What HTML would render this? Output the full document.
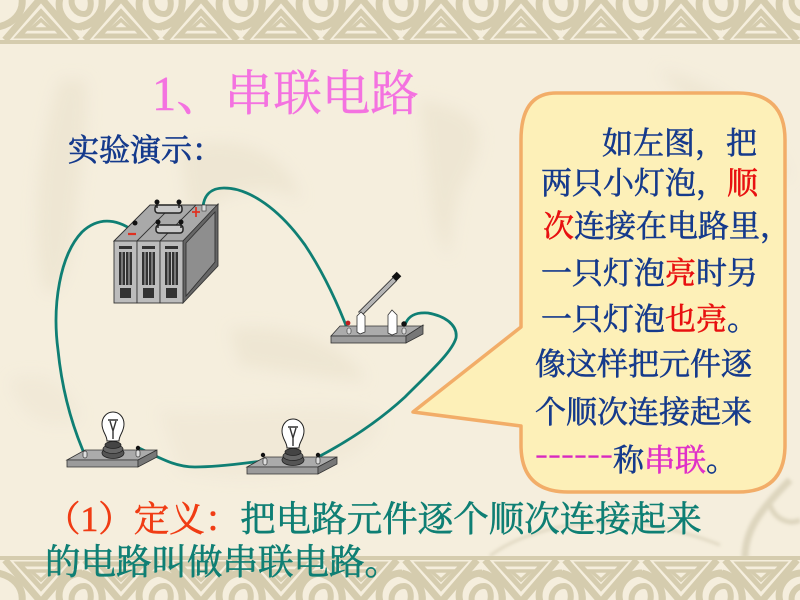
<!DOCTYPE html>
<html><head><meta charset="utf-8"><style>
html,body{margin:0;padding:0;background:#f5eedd}
svg{display:block}
text{font-family:"Liberation Serif","Noto Serif CJK SC",serif}
</style></head><body>
<svg width="800" height="600" viewBox="0 0 800 600" xmlns="http://www.w3.org/2000/svg">
<defs>
<filter id="b" x="-20%" y="-20%" width="140%" height="140%"><feGaussianBlur stdDeviation="7"/></filter>
<filter id="s" x="-10%" y="-10%" width="120%" height="120%"><feGaussianBlur stdDeviation="1.500"/></filter>
<g id="unit" fill="none" stroke="#d5ccae" stroke-width="7">
  <path d="M-2 42H82" stroke-width="4"/>
  <path d="M5 40L41 -2L77 40"/>
  <path d="M19 36H63L41 12Z" stroke-width="5"/>
  <path d="M31 29H51L41 20Z" stroke-width="3.500"/>
  <path d="M-2 27C12 24 24 14 22 -2"/>
  <path d="M60 -2C56 12 66 27 82 27"/>
  <path d="M72 -2C70 6 76 14 84 14C90 14 92 6 90 -2" stroke-width="6"/>
  <path d="M82 27C94 24 104 14 102 -2"/>
</g>
<g id="band"><use href="#unit" x="0"/><use href="#unit" x="80"/><use href="#unit" x="160"/><use href="#unit" x="240"/><use href="#unit" x="320"/><use href="#unit" x="400"/><use href="#unit" x="480"/><use href="#unit" x="560"/><use href="#unit" x="640"/><use href="#unit" x="720"/></g>
<g id="lamp">
  <path d="M67 460L85 450H157L138 460Z" fill="#ababab" stroke="#333" stroke-width=".8"/>
  <path d="M67 460H138V467H67Z" fill="#9b9b9b" stroke="#333" stroke-width=".8"/>
  <path d="M138 460L157 450V457L138 467Z" fill="#777" stroke="#333" stroke-width=".8"/>
  <ellipse cx="113" cy="453" rx="11" ry="5.500" fill="#555" stroke="#222" stroke-width=".8"/>
  <ellipse cx="113" cy="449" rx="10" ry="4.500" fill="#666" stroke="#222" stroke-width=".8"/>
  <ellipse cx="113" cy="445" rx="8" ry="3.500" fill="#444" stroke="#222" stroke-width=".8"/>
  <path d="M107 441C107 435 102 432 102 424C102 417 107 412 113 412C119 412 124 417 124 424C124 432 119 435 119 441Z" fill="#fff" stroke="#222" stroke-width="1"/>
  <path d="M110 421L113 431L116 421M108 420L118 420M113 431V439" fill="none" stroke="#333" stroke-width="1.400"/>
  <rect x="83" y="451" width="4" height="7" rx="2" fill="#ddd" stroke="#333" stroke-width=".7"/>
  <rect x="136" y="450" width="4" height="7" rx="2" fill="#ddd" stroke="#333" stroke-width=".7"/>
  <circle cx="138" cy="448" r="2.200" fill="#111"/>
</g>
</defs>
<rect width="800" height="600" fill="#f5eedd"/>
<g fill="#eee6d3" filter="url(#b)">
  <path d="M60 80C40 140 28 230 45 290C60 300 70 270 75 220C80 170 90 120 85 80Z"/>
  <path d="M180 150C230 130 290 150 300 200C270 180 220 190 190 220Z"/>
  <path d="M230 330C280 320 350 345 365 380C330 380 280 370 240 365Z"/>
  <path d="M160 410C200 420 360 395 380 420C370 470 260 490 180 470Z" opacity=".6"/>
  <path d="M420 100C470 110 500 120 460 190C450 230 450 250 450 255C430 240 430 180 420 100Z"/>
  <path d="M660 70C710 80 760 110 790 180C750 160 690 110 660 70Z"/>
  <path d="M10 380C40 370 70 380 80 420C50 430 20 420 10 380Z" opacity=".6"/>
</g>
<g fill="none" stroke="#ddd5be" stroke-width="5" filter="url(#s)">
  <path d="M745 558C745 530 760 510 790 480" stroke-width="7"/>
  <path d="M770 505C775 520 790 525 800 520" stroke-width="5"/>
  <path d="M490 556C530 525 620 505 720 545" stroke-width="2.500"/>
</g>
<use href="#band"/>
<use href="#band" transform="translate(0,600) scale(1,-1)"/>

<!-- wires -->
<g fill="none" stroke="#0f7f74" stroke-width="2.800" stroke-linecap="round">
  <path d="M136 233C120 220 100 215 82 232C60 255 52 305 58 350C62 390 72 425 84 453"/>
  <path d="M203 207C204 195 211 188 224 188C250 188 280 210 305 245C325 275 338 305 347 328"/>
  <path d="M405 325C408 316 415 312 428 313C445 316 458 325 456 338C452 352 430 372 405 397C380 420 350 440 320 456"/>
  <path d="M139 448C160 458 175 467 195 467C220 467 245 463 263 461"/>
</g>

<!-- battery -->
<g stroke="#333" stroke-width=".9">
  <path d="M114 241L150 205H218L183 241Z" fill="#a9a9a9"/>
  <path d="M183 241L218 204V266L183 303Z" fill="#666"/>
  <path d="M186 243L215 212V262L186 296Z" fill="#8e8e8e"/>
  <path d="M137 241L173 205M160 241L196 205" fill="none"/>
  <rect x="114" y="241" width="23" height="62" fill="#bcbcbc"/>
  <rect x="137" y="241" width="23" height="62" fill="#bcbcbc"/>
  <rect x="160" y="241" width="23" height="62" fill="#bcbcbc"/>
</g>
<g fill="#333">
  <rect x="119" y="246" width="13" height="3"/><rect x="119" y="252" width="13" height="33"/><rect x="120" y="288" width="11" height="10"/>
  <rect x="142" y="246" width="13" height="3"/><rect x="142" y="252" width="13" height="33"/><rect x="143" y="288" width="11" height="10"/>
  <rect x="165" y="246" width="13" height="3"/><rect x="165" y="252" width="13" height="33"/><rect x="166" y="288" width="11" height="10"/>
</g>
<g stroke="#bcbcbc" stroke-width="1">
  <path d="M122 252V285M125.500 252V285M129 252V285M145 252V285M148.500 252V285M152 252V285M168 252V285M171.500 252V285M175 252V285"/>
</g>
<g fill="none" stroke="#222" stroke-width="1.500">
  <rect x="155" y="205" width="27" height="8" rx="3" fill="#c8c8c8"/>
  <rect x="156" y="225" width="27" height="8" rx="3" fill="#c8c8c8"/>
  <path d="M157 203V208M179 203V208M158 222V228M181 222V228"/>
</g>
<g fill="#111"><circle cx="157" cy="202" r="2.500"/><circle cx="179" cy="202" r="2.500"/><circle cx="158" cy="222" r="2.500"/><circle cx="181" cy="222" r="2.500"/><circle cx="135" cy="223" r="2.500"/></g>
<rect x="202" y="205" width="4" height="6" fill="#ddd" stroke="#333" stroke-width=".6"/>
<path d="M192 212H200M196 207V217" stroke="#e03020" stroke-width="1.700"/>
<path d="M128 234H136" stroke="#e03020" stroke-width="2.200"/>

<!-- switch -->
<path d="M331 336L340 326H423L406 336Z" fill="#ababab" stroke="#333" stroke-width=".8"/>
<rect x="331" y="336" width="75" height="7" fill="#9b9b9b" stroke="#333" stroke-width=".8"/>
<path d="M406 336L423 325V334L406 343Z" fill="#777" stroke="#333" stroke-width=".8"/>
<path d="M360 314L395 279" stroke="#333" stroke-width="5.500"/>
<path d="M360 314L395 279" stroke="#b5b5b5" stroke-width="3.800"/>
<path d="M394 279L399 274" stroke="#111" stroke-width="6.500"/>
<path d="M357 332V316L361 312L365 316V332L360 334Z" fill="#fff" stroke="#333" stroke-width=".8"/>
<path d="M388 333V315L392 310L397 315V333L392 335Z" fill="#fff" stroke="#333" stroke-width=".8"/>
<rect x="347" y="328" width="4" height="6" rx="2" fill="#ddd" stroke="#333" stroke-width=".6"/>
<circle cx="348" cy="323" r="2.400" fill="#c02020"/>
<rect x="402" y="328" width="4" height="6" rx="2" fill="#ddd" stroke="#333" stroke-width=".6"/>
<circle cx="404" cy="324" r="2.700" fill="#111"/>

<!-- lamps -->
<use href="#lamp"/>
<use href="#lamp" x="180" y="7"/>
<circle cx="263" cy="455" r="2.200" fill="#111"/>

<!-- callout -->
<path d="M556 93H738Q785 93 785 140V445Q785 492 738 492H568Q521 492 521 445V426L413 412L521 327V140Q521 93 556 93Z" fill="#fdf0b8" stroke="#f2ad68" stroke-width="3.500" stroke-linejoin="round"/>

<!-- title and labels -->
<text x="152" y="110" font-size="48.500" fill="#f472e0" stroke="#f472e0" stroke-width=".4">1、串联电路</text>
<text x="68" y="161" font-size="31" fill="#153a8c" stroke="#153a8c" stroke-width=".7">实验演示：</text>

<g font-size="31" fill="#153a8c" stroke="#153a8c" stroke-width=".6">
<text x="602" y="154">如左图，把</text>
<text x="541" y="194">两只小灯泡，<tspan fill="#e81010" stroke="#e81010">顺</tspan></text>
<text x="543" y="237"><tspan fill="#e81010" stroke="#e81010">次</tspan>连接在电路里，</text>
<text x="541" y="284">一只灯泡<tspan fill="#e81010" stroke="#e81010">亮</tspan>时另</text>
<text x="541" y="330">一只灯泡<tspan fill="#e81010" stroke="#e81010">也亮</tspan>。</text>
<text x="535" y="375">像这样把元件逐</text>
<text x="535" y="423">个顺次连接起来</text>
<text x="613" y="471">称<tspan fill="#e030c8" stroke="#e030c8">串联</tspan>。</text>
</g>
<text x="535" y="463" font-size="25" fill="#d828c0" stroke="#d828c0" stroke-width=".4" textLength="78" lengthAdjust="spacingAndGlyphs" style="font-family:'Liberation Sans',sans-serif">------</text>

<g font-size="35.500" fill="#0f7f74" stroke="#0f7f74" stroke-width=".6">
<text x="45" y="531"><tspan fill="#f03c14" stroke="#f03c14">（1）定义：</tspan>把电路元件逐个顺次连接起来</text>
<text x="45" y="574">的电路叫做串联电路。</text>
</g>
</svg>
</body></html>
